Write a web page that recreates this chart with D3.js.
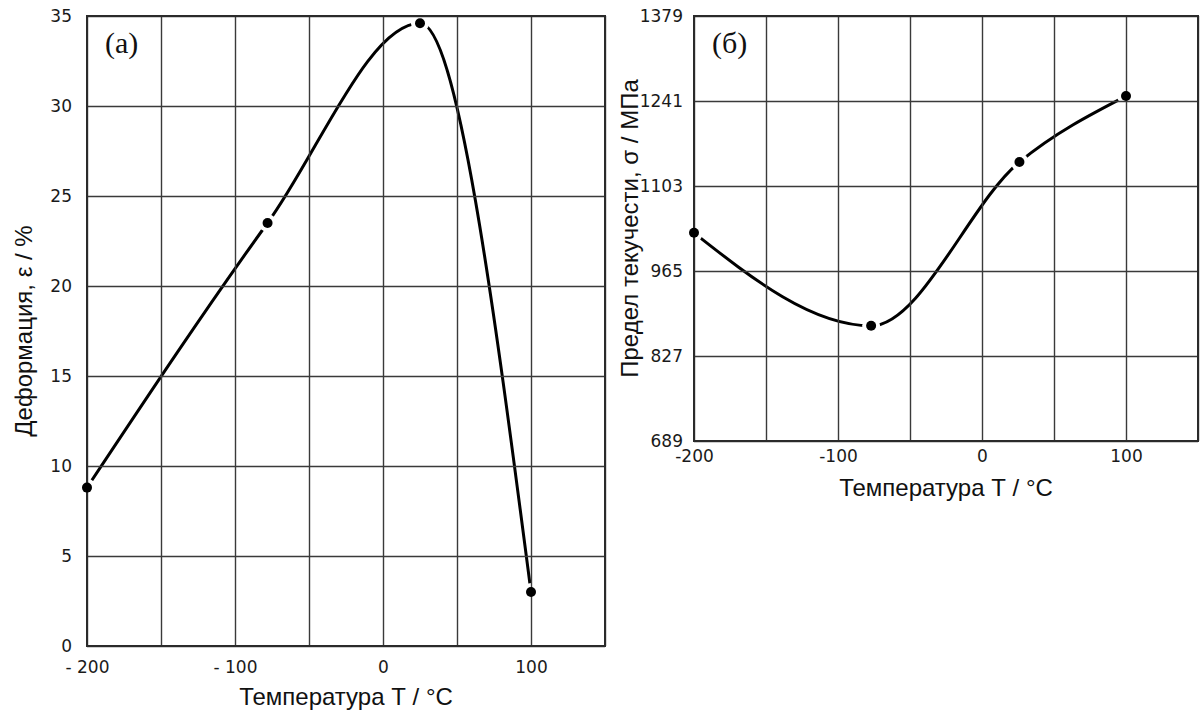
<!DOCTYPE html>
<html>
<head>
<meta charset="utf-8">
<script src="https://cdn.jsdelivr.net/npm/d3@7"></script>
<style>
    body { margin: 0; background: #fff; }
    .axis path, .axis line { stroke: none; }
    .grid line { stroke: #3a3a3a; stroke-width: 1.4; }
    .grid path { stroke: none; }
    .tick-labels text { font-family: "DejaVu Sans", sans-serif; font-size: 17px; fill: #1a1a1a; }
    .axis-title { font-family: "Liberation Sans", Arial, sans-serif; font-size: 24px; fill: #111; }
    .panel-label { font-family: "Liberation Serif", "Times New Roman", serif; font-size: 30px; fill: #111; }
</style>
</head>
<body>
<svg id="chart" width="1201" height="711"></svg>
<script>
// panel (a): strain vs temperature
const tempA = [-200, -78, 25, 100];
const strainA = [8.8, 23.5, 34.6, 3.0];
const yTicksA = [0, 5, 10, 15, 20, 25, 30, 35];
const xLabelsA = ['- 200', '- 100', '0', '100'];

// panel (b): yield strength vs temperature
const tempB = [-200, -77, 26, 100];
const stressB = [1027, 876, 1142, 1249];
const yTicksB = [689, 827, 965, 1103, 1241, 1379];
const xLabelsB = ['-200', '-100', '0', '100'];

// shared x ticks
const xGridTicks = [-200, -150, -100, -50, 0, 50, 100, 150];
const xLabelTicks = [-200, -100, 0, 100];

class TempPanel {

    constructor(_config, _data) {
        this.config = _config;
        this.data = _data;
        this.initVis();
    }

    initVis() {
        let vis = this;
        let c = vis.config;

        vis.xScale = d3.scaleLinear()
            .domain([-200, 150])
            .range([0, c.width]);

        vis.yScale = d3.scaleLinear()
            .domain(d3.extent(c.yTicks))
            .range([c.height, 0]);

        vis.chart = d3.select(c.parentElement).append('g')
            .attr('transform', `translate(${c.left},${c.top})`);

        vis.renderVis();
    }

    renderVis() {
        let vis = this;
        let c = vis.config;

        let line = d3.line()
            .x(d => vis.xScale(d.t))
            .y(d => vis.yScale(d.v))
            .curve(d3.curveMonotoneX);

        // curve first, white halos cut the gaps around the points
        vis.chart.append('path')
            .datum(vis.data)
            .attr('d', line)
            .attr('fill', 'none')
            .attr('stroke', '#000')
            .attr('stroke-width', 3);

        vis.chart.selectAll('.halo')
            .data(vis.data)
            .join('circle')
            .attr('class', 'halo')
            .attr('cx', d => vis.xScale(d.t))
            .attr('cy', d => vis.yScale(d.v))
            .attr('r', 9)
            .attr('fill', '#fff');

        // grid lines
        vis.chart.append('g')
            .attr('class', 'grid')
            .call(d3.axisBottom(vis.xScale).tickValues(xGridTicks).tickSize(c.height).tickFormat(''));

        vis.chart.append('g')
            .attr('class', 'grid')
            .attr('transform', `translate(${c.width},0)`)
            .call(d3.axisLeft(vis.yScale).tickValues(c.yTicks).tickSize(c.width).tickFormat(''));

        vis.chart.append('rect')
            .attr('width', c.width)
            .attr('height', c.height)
            .attr('fill', 'none')
            .attr('stroke', '#2a2a2a')
            .attr('stroke-width', 2);

        // tick labels
        vis.chart.append('g')
            .attr('class', 'axis tick-labels')
            .attr('transform', `translate(0,${c.height})`)
            .call(d3.axisBottom(vis.xScale).tickValues(xLabelTicks).tickSize(0)
                .tickPadding(c.xPad).tickFormat((d, i) => c.xLabels[i]));

        vis.chart.append('g')
            .attr('class', 'axis tick-labels')
            .call(d3.axisLeft(vis.yScale).tickValues(c.yTicks).tickSize(0)
                .tickPadding(c.yPad).tickFormat(d3.format('d')));

        vis.chart.selectAll('.dot')
            .data(vis.data)
            .join('circle')
            .attr('class', 'dot')
            .attr('cx', d => vis.xScale(d.t))
            .attr('cy', d => vis.yScale(d.v))
            .attr('r', 5)
            .attr('fill', '#000');

        // titles
        vis.chart.append('text')
            .attr('class', 'axis-title')
            .attr('x', c.width / 2)
            .attr('y', c.height + c.xTitleOffset)
            .attr('text-anchor', 'middle')
            .text('Температура Т / °С');

        vis.chart.append('text')
            .attr('class', 'axis-title')
            .attr('transform', `translate(${-c.yTitleOffset},${c.height / 2}) rotate(-90)`)
            .attr('text-anchor', 'middle')
            .text(c.yTitle);

        vis.chart.append('text')
            .attr('class', 'panel-label')
            .attr('x', 18)
            .attr('y', 37)
            .text(c.label);
    }
}

const svg = d3.select('#chart');
svg.append('rect').attr('width', 1201).attr('height', 711).attr('fill', '#fff');

new TempPanel({
    parentElement: '#chart',
    left: 87, top: 16, width: 518, height: 630,
    yTicks: yTicksA, xLabels: xLabelsA,
    xPad: 15, yPad: 15,
    xTitleOffset: 59, yTitleOffset: 55,
    yTitle: 'Деформация, ε / %',
    label: '(a)'
}, tempA.map((t, i) => ({t: t, v: strainA[i]})));

new TempPanel({
    parentElement: '#chart',
    left: 694, top: 16, width: 504, height: 425,
    yTicks: yTicksB, xLabels: xLabelsB,
    xPad: 9, yPad: 11,
    xTitleOffset: 55, yTitleOffset: 56,
    yTitle: 'Предел текучести, σ / МПа',
    label: '(б)'
}, tempB.map((t, i) => ({t: t, v: stressB[i]})));
</script>
</body>
</html>
